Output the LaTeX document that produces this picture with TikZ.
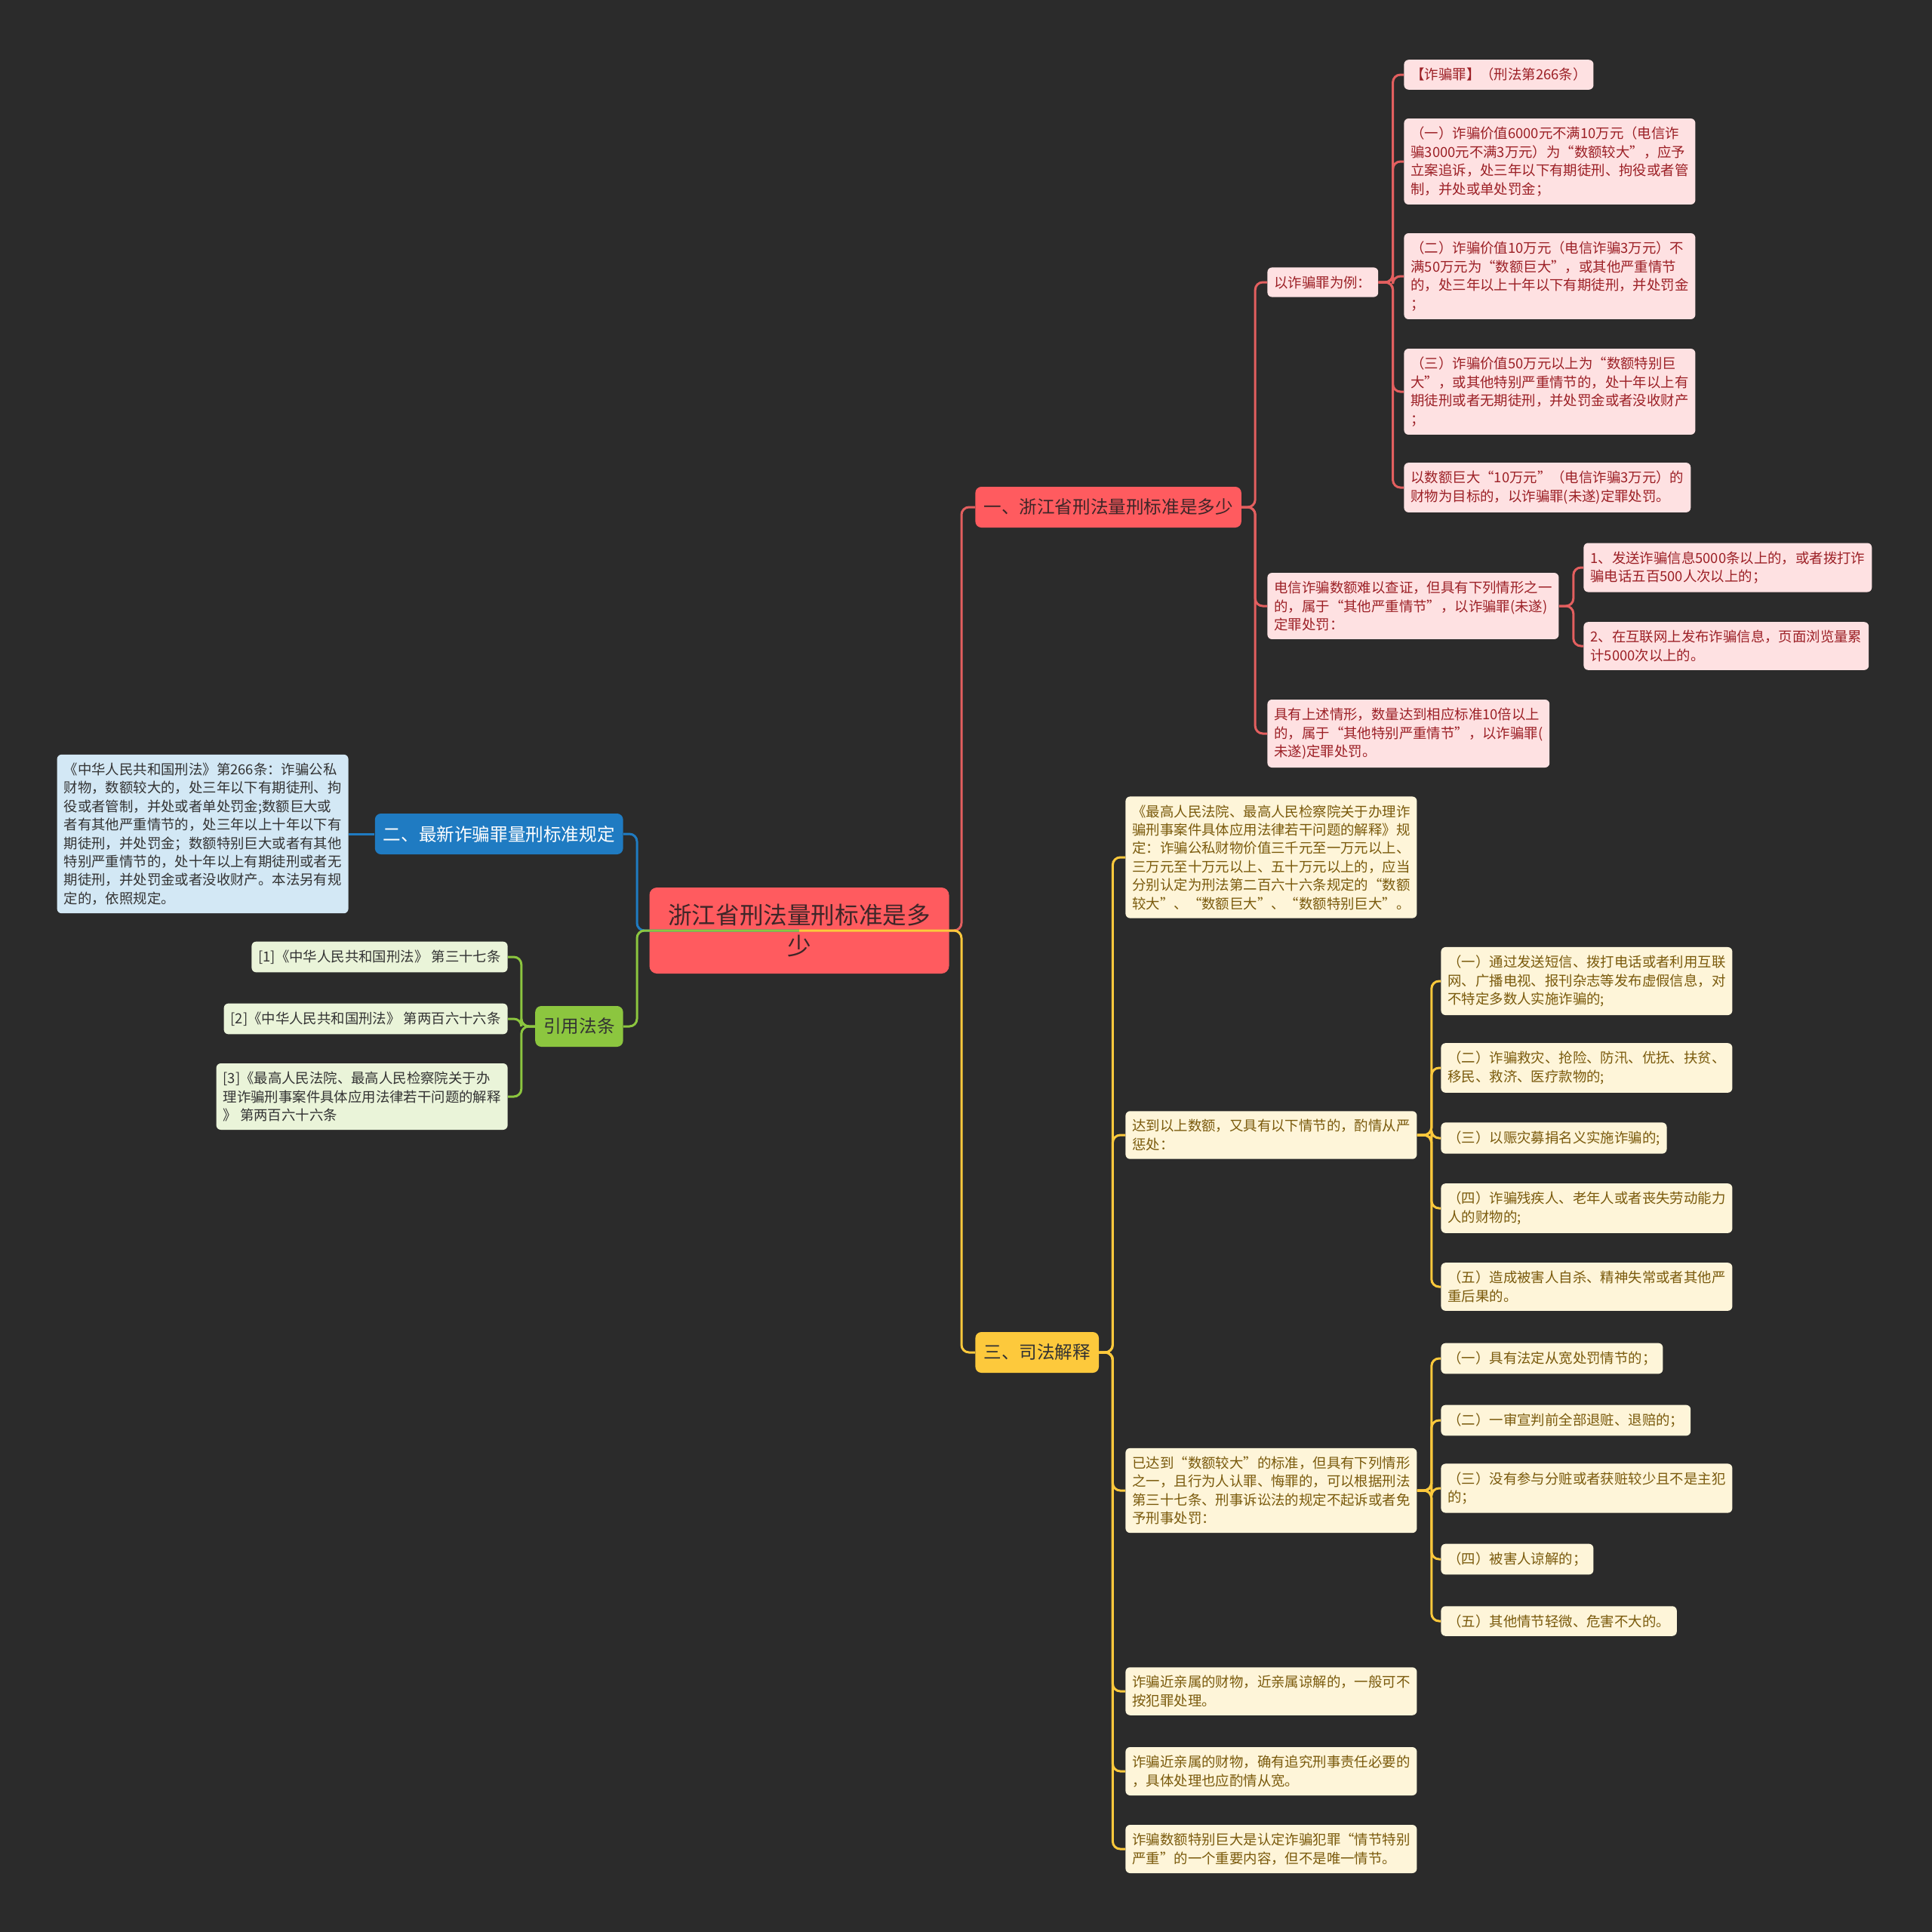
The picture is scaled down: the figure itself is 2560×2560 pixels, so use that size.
\documentclass[tikz,border=0pt]{standalone}
\usepackage{fontspec}
\setmainfont{Noto Sans CJK SC}
\usepackage{tikz}
\usetikzlibrary{positioning,calc}
\definecolor{board}    {HTML}{2B2B2B}
\definecolor{rosso}    {HTML}{FF5B5F}
\definecolor{rossoline}{HTML}{E35F5F}
\definecolor{rosefill} {HTML}{FEE1E2}
\definecolor{rosetext} {HTML}{9C2026}
\definecolor{blu}      {HTML}{1F7BC2}
\definecolor{bluefill} {HTML}{D3E8F5}
\definecolor{verde}    {HTML}{8CC63F}
\definecolor{greenfill}{HTML}{EAF4D9}
\definecolor{giallo}   {HTML}{FDC93C}
\definecolor{yellowfill}{HTML}{FEF5D9}
\definecolor{ochre}    {HTML}{7A5A0C}
\definecolor{ink}      {HTML}{333333}
\definecolor{rootink}  {HTML}{3E2628}
\newcommand\leaffont{\fontsize{9.2pt}{12.2pt}\selectfont}
\newcommand\topicfont{\fontsize{11.8pt}{14pt}\selectfont}
\newcommand\rootfont{\fontsize{15.8pt}{20.5pt}\selectfont}
\tikzset{
  % --- nodes
  mod/.style     = {rounded corners=3pt, align=left, inner xsep=4.5pt,
                    inner ysep=5.5pt, font=\leaffont},
  redleaf/.style = {mod, fill=rosefill, text=rosetext},
  blueleaf/.style= {mod, fill=bluefill, text=ink},
  greenleaf/.style={mod, fill=greenfill, text=ink},
  yelleaf/.style = {mod, fill=yellowfill, text=ochre},
  topic/.style   = {rounded corners=4pt, align=center, inner xsep=5.5pt,
                    minimum height=27pt, font=\topicfont},
  rootbox/.style = {rounded corners=5pt, align=center, fill=rosso, text=rootink,
                    minimum width=198.5pt, minimum height=57pt, font=\rootfont},
  % --- edges
  e/.style       = {line width=1.5pt, rounded corners=5pt},
  er/.style      = {e, draw=rossoline},
  eb/.style      = {e, draw=blu},
  eg/.style      = {e, draw=verde},
  ey/.style      = {e, draw=giallo},
}
\begin{document}
\begin{tikzpicture}[x=0.5pt,y=-0.5pt]
  \useasboundingbox (0,0) rectangle (2560,2560);
  \fill[board] (0,0) rectangle (2560,2560);

  % root and main topics
  \node[rootbox] (root) at (1059,1233) {浙江省刑法量刑标准是多\\少};
  \node[topic, fill=rosso, text=rootink, anchor=west] (one) at (1292,672) {一、浙江省刑法量刑标准是多少};
  \node[topic, fill=blu, text=white, anchor=east] (two) at (826,1105) {二、最新诈骗罪量刑标准规定};
  \node[topic, fill=giallo, text=ink, anchor=west] (three) at (1292,1792) {三、司法解释};
  \node[topic, fill=verde, text=ink, anchor=east] (cite) at (826,1360) {引用法条};

  % --- branch one
  \node[redleaf, anchor=west] (ex) at (1679,374) {以诈骗罪为例：};
  \node[redleaf, anchor=west] (tel) at (1679,803) {电信诈骗数额难以查证，但具有下列情形之一\\的，属于“其他严重情节”，以诈骗罪(未遂)\\定罪处罚：};
  \node[redleaf, anchor=west] (tenx) at (1679,972) {具有上述情形，数量达到相应标准10倍以上\\的，属于“其他特别严重情节”，以诈骗罪(\\未遂)定罪处罚。};

  \node[redleaf, anchor=west] (ex1) at (1860,99) {【诈骗罪】（刑法第266条）};
  \node[redleaf, anchor=west] (ex2) at (1860,214) {（一）诈骗价值6000元不满10万元（电信诈\\骗3000元不满3万元）为“数额较大”，应予\\立案追诉，处三年以下有期徒刑、拘役或者管\\制，并处或单处罚金；};
  \node[redleaf, anchor=west] (ex3) at (1860,366) {（二）诈骗价值10万元（电信诈骗3万元）不\\满50万元为“数额巨大”，或其他严重情节\\的，处三年以上十年以下有期徒刑，并处罚金\\；};
  \node[redleaf, anchor=west] (ex4) at (1860,519) {（三）诈骗价值50万元以上为“数额特别巨\\大”，或其他特别严重情节的，处十年以上有\\期徒刑或者无期徒刑，并处罚金或者没收财产\\；};
  \node[redleaf, anchor=west] (ex5) at (1860,646) {以数额巨大“10万元”（电信诈骗3万元）的\\财物为目标的，以诈骗罪(未遂)定罪处罚。};

  \node[redleaf, anchor=west] (tel1) at (2098,752) {1、发送诈骗信息5000条以上的，或者拨打诈\\骗电话五百500人次以上的；};
  \node[redleaf, anchor=west] (tel2) at (2098,856) {2、在互联网上发布诈骗信息，页面浏览量累\\计5000次以上的。};

  % --- branch two
  \node[blueleaf, anchor=east] (art) at (462,1105) {《中华人民共和国刑法》第266条：诈骗公私\\财物，数额较大的，处三年以下有期徒刑、拘\\役或者管制，并处或者单处罚金;数额巨大或\\者有其他严重情节的，处三年以上十年以下有\\期徒刑，并处罚金；数额特别巨大或者有其他\\特别严重情节的，处十年以上有期徒刑或者无\\期徒刑，并处罚金或者没收财产。本法另有规\\定的，依照规定。};

  % --- cited articles
  \node[greenleaf, anchor=east] (ref1) at (673,1268) {[1]《中华人民共和国刑法》 第三十七条};
  \node[greenleaf, anchor=east] (ref2) at (673,1350) {[2]《中华人民共和国刑法》 第两百六十六条};
  \node[greenleaf, anchor=east] (ref3) at (673,1453) {[3]《最高人民法院、最高人民检察院关于办\\理诈骗刑事案件具体应用法律若干问题的解释\\》 第两百六十六条};

  % --- branch three
  \node[yelleaf, anchor=west] (jud) at (1491,1136) {《最高人民法院、最高人民检察院关于办理诈\\骗刑事案件具体应用法律若干问题的解释》规\\定：诈骗公私财物价值三千元至一万元以上、\\三万元至十万元以上、五十万元以上的，应当\\分别认定为刑法第二百六十六条规定的“数额\\较大”、“数额巨大”、“数额特别巨大”。};
  \node[yelleaf, anchor=west] (harsh) at (1491,1504) {达到以上数额，又具有以下情节的，酌情从严\\惩处：};
  \node[yelleaf, anchor=west] (mild) at (1491,1975) {已达到“数额较大”的标准，但具有下列情形\\之一，且行为人认罪、悔罪的，可以根据刑法\\第三十七条、刑事诉讼法的规定不起诉或者免\\予刑事处罚：};
  \node[yelleaf, anchor=west] (kin1) at (1491,2241) {诈骗近亲属的财物，近亲属谅解的，一般可不\\按犯罪处理。};
  \node[yelleaf, anchor=west] (kin2) at (1491,2347) {诈骗近亲属的财物，确有追究刑事责任必要的\\，具体处理也应酌情从宽。};
  \node[yelleaf, anchor=west] (huge) at (1491,2450) {诈骗数额特别巨大是认定诈骗犯罪“情节特别\\严重”的一个重要内容，但不是唯一情节。};

  \node[yelleaf, anchor=west] (h1) at (1909,1300) {（一）通过发送短信、拨打电话或者利用互联\\网、广播电视、报刊杂志等发布虚假信息，对\\不特定多数人实施诈骗的;};
  \node[yelleaf, anchor=west] (h2) at (1909,1415) {（二）诈骗救灾、抢险、防汛、优抚、扶贫、\\移民、救济、医疗款物的;};
  \node[yelleaf, anchor=west] (h3) at (1909,1508) {（三）以赈灾募捐名义实施诈骗的;};
  \node[yelleaf, anchor=west] (h4) at (1909,1601) {（四）诈骗残疾人、老年人或者丧失劳动能力\\人的财物的;};
  \node[yelleaf, anchor=west] (h5) at (1909,1705) {（五）造成被害人自杀、精神失常或者其他严\\重后果的。};

  \node[yelleaf, anchor=west] (m1) at (1909,1800) {（一）具有法定从宽处罚情节的；};
  \node[yelleaf, anchor=west] (m2) at (1909,1882) {（二）一审宣判前全部退赃、退赔的；};
  \node[yelleaf, anchor=west] (m3) at (1909,1972) {（三）没有参与分赃或者获赃较少且不是主犯\\的；};
  \node[yelleaf, anchor=west] (m4) at (1909,2066) {（四）被害人谅解的；};
  \node[yelleaf, anchor=west] (m5) at (1909,2148) {（五）其他情节轻微、危害不大的。};

  % connectors
  \draw[eb] (root.center) -- ++(-215,0) |- (two.east);
  \draw[eg] (root.center) -- ++(-215,0) |- (cite.east);
  \draw[er] (root.center) -- ++(215,0) |- (one.west);
  \draw[ey] (root.center) -- ++(215,0) |- (three.west);

  \foreach \n in {ex,tel,tenx} \draw[er] (one.east) -- ++(18,0) |- (\n.west);
  \foreach \n in {ex1,ex2,ex3,ex4,ex5} \draw[er] (ex.east) -- ++(19,0) |- (\n.west);
  \foreach \n in {tel1,tel2} \draw[er] (tel.east) -- ++(19,0) |- (\n.west);

  \draw[eb] (two.west) -- (art.east);
  \foreach \n in {ref1,ref2,ref3} \draw[eg] (cite.west) -- ++(-18,0) |- (\n.east);

  \foreach \n in {jud,harsh,mild,kin1,kin2,huge} \draw[ey] (three.east) -- ++(18,0) |- (\n.west);
  \foreach \n in {h1,h2,h3,h4,h5} \draw[ey] (harsh.east) -- ++(19,0) |- (\n.west);
  \foreach \n in {m1,m2,m3,m4,m5} \draw[ey] (mild.east) -- ++(19,0) |- (\n.west);
\end{tikzpicture}
\end{document}
